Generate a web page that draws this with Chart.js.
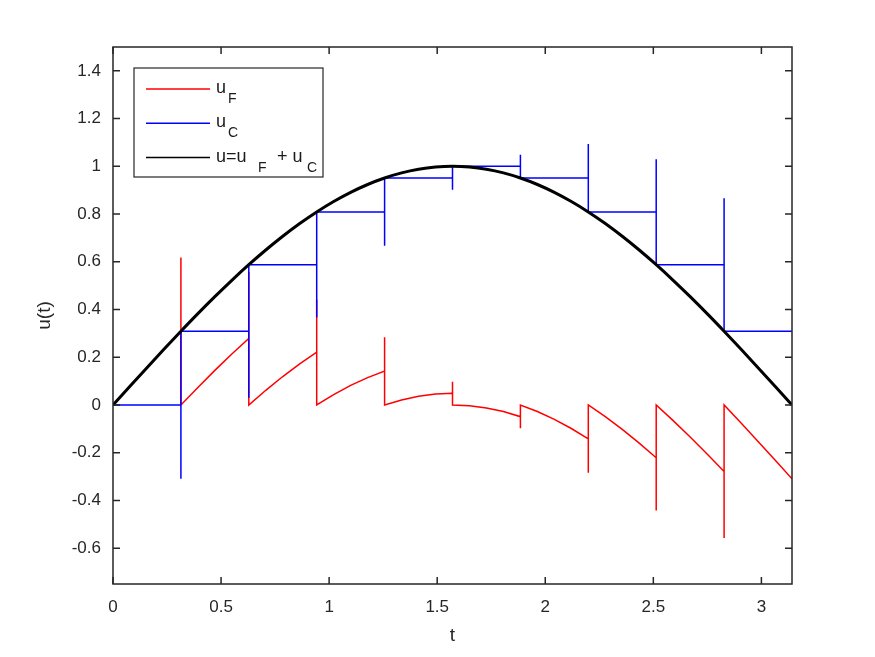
<!DOCTYPE html>
<html>
<head>
<meta charset="utf-8">
<script src="https://cdn.jsdelivr.net/npm/chart.js@4.4.1/dist/chart.umd.min.js"></script>
<style>
  html, body { margin: 0; padding: 0; background: #fff; }
  #chart { display: block; }
</style>
</head>
<body>
<canvas id="chart" width="875" height="657"></canvas>
<script>
// tick positions + labels
const xTicks = [0, 0.5, 1, 1.5, 2, 2.5, 3];
const xTickLabels = ['0', '0.5', '1', '1.5', '2', '2.5', '3'];
const yTicks = [-0.6, -0.4, -0.2, 0, 0.2, 0.4, 0.6, 0.8, 1, 1.2, 1.4];
const yTickLabels = ['-0.6', '-0.4', '-0.2', '0', '0.2', '0.4', '0.6', '0.8', '1', '1.2', '1.4'];

// u = uF + uC (black curve)
const tGrid = [0, 0.0785, 0.1571, 0.2356, 0.3142, 0.3927, 0.4712, 0.5498, 0.6283, 0.7069,
  0.7854, 0.8639, 0.9425, 1.0210, 1.0996, 1.1781, 1.2566, 1.3352, 1.4137, 1.4923,
  1.5708, 1.6493, 1.7279, 1.8064, 1.8850, 1.9635, 2.0420, 2.1206, 2.1991, 2.2777,
  2.3562, 2.4347, 2.5133, 2.5918, 2.6704, 2.7489, 2.8274, 2.9060, 2.9845, 3.0631, 3.1416];
const uTotal = [0, 0.0785, 0.1564, 0.2334, 0.3090, 0.3827, 0.4540, 0.5225, 0.5878, 0.6494,
  0.7071, 0.7604, 0.8090, 0.8526, 0.8910, 0.9239, 0.9511, 0.9724, 0.9877, 0.9969,
  1.0000, 0.9969, 0.9877, 0.9724, 0.9511, 0.9239, 0.8910, 0.8526, 0.8090, 0.7604,
  0.7071, 0.6494, 0.5878, 0.5225, 0.4540, 0.3827, 0.3090, 0.2334, 0.1564, 0.0785, 0];

// uC (blue) - held value, with a spike at every switch
const uCTime = [0,
  0.3142, 0.3142, 0.3142, 0.6283, 0.6283, 0.6283, 0.9425, 0.9425, 0.9425,
  1.2566, 1.2566, 1.2566, 1.5708, 1.5708, 1.5708, 1.8850, 1.8850, 1.8850,
  2.1991, 2.1991, 2.1991, 2.5133, 2.5133, 2.5133, 2.8274, 2.8274, 2.8274,
  3.1416];
const uCValue = [0,
  0, -0.3090, 0.3090, 0.3090, 0.0302, 0.5878, 0.5878, 0.3666, 0.8090,
  0.8090, 0.6669, 0.9511, 0.9511, 0.9022, 1.0000, 1.0000, 1.0489, 0.9511,
  0.9511, 1.0932, 0.8090, 0.8090, 1.0302, 0.5878, 0.5878, 0.8666, 0.3090,
  0.3090];

// uF (red) - remainder, reset to 0 at every switch
const uFTime = [0, 0.0785, 0.1571, 0.2356, 0.3142, 0.3142, 0.3142,
  0.3927, 0.4712, 0.5498, 0.6283, 0.6283, 0.6283,
  0.7069, 0.7854, 0.8639, 0.9425, 0.9425, 0.9425,
  1.0210, 1.0996, 1.1781, 1.2566, 1.2566, 1.2566,
  1.3352, 1.4137, 1.4923, 1.5708, 1.5708, 1.5708,
  1.6493, 1.7279, 1.8064, 1.8850, 1.8850, 1.8850,
  1.9635, 2.0420, 2.1206, 2.1991, 2.1991, 2.1991,
  2.2777, 2.3562, 2.4347, 2.5133, 2.5133, 2.5133,
  2.5918, 2.6704, 2.7489, 2.8274, 2.8274, 2.8274,
  2.9060, 2.9845, 3.0631, 3.1416];
const uFValue = [0, 0.0785, 0.1564, 0.2334, 0.3090, 0.6180, 0,
  0.0737, 0.1450, 0.2135, 0.2788, 0.5576, 0,
  0.0616, 0.1193, 0.1726, 0.2212, 0.4424, 0,
  0.0436, 0.0820, 0.1149, 0.1421, 0.2842, 0,
  0.0213, 0.0366, 0.0458, 0.0489, 0.0978, 0,
  -0.0031, -0.0123, -0.0276, -0.0489, -0.0978, 0,
  -0.0272, -0.0601, -0.0985, -0.1421, -0.2842, 0,
  -0.0486, -0.1019, -0.1596, -0.2212, -0.4424, 0,
  -0.0653, -0.1338, -0.2051, -0.2788, -0.5576, 0,
  -0.0756, -0.1526, -0.2305, -0.3090];

const toPoints = (xs, ys) => xs.map((x, i) => ({ x: x, y: ys[i] }));

const axisColor = '#262626';
const fontFamily = '"Liberation Sans", Arial, Helvetica, sans-serif';

// MATLAB style box: frame + inward ticks on all four sides
const frameBox = {
  id: 'frameBox',
  afterDatasetsDraw(chart) {
    const { ctx, chartArea: a, scales } = chart;
    ctx.save();
    ctx.strokeStyle = axisColor;
    ctx.lineWidth = 1.5;
    ctx.strokeRect(a.left, a.top, a.right - a.left, a.bottom - a.top);
    ctx.beginPath();
    xTicks.forEach(v => {
      const px = scales.x.getPixelForValue(v);
      ctx.moveTo(px, a.bottom); ctx.lineTo(px, a.bottom - 7);
      ctx.moveTo(px, a.top); ctx.lineTo(px, a.top + 7);
    });
    yTicks.forEach(v => {
      const py = scales.y.getPixelForValue(v);
      ctx.moveTo(a.left, py); ctx.lineTo(a.left + 7, py);
      ctx.moveTo(a.right, py); ctx.lineTo(a.right - 7, py);
    });
    ctx.stroke();
    ctx.restore();
  }
};

// legend with subscripts, top-left inside axes
const legendEntries = [
  { color: '#ff0000', parts: [['u', 0, false], ['F', 12, true]] },
  { color: '#0000ff', parts: [['u', 0, false], ['C', 12, true]] },
  { color: '#000000', parts: [['u=u', 0, false], ['F', 42, true], ['+ u', 61, false], ['C', 91, true]] }
];
const boxLegend = {
  id: 'boxLegend',
  afterDraw(chart) {
    const ctx = chart.ctx;
    const x0 = 134, y0 = 68, w = 189, h = 109;
    ctx.save();
    ctx.fillStyle = '#ffffff';
    ctx.fillRect(x0, y0, w, h);
    ctx.strokeStyle = axisColor;
    ctx.lineWidth = 1.2;
    ctx.strokeRect(x0, y0, w, h);
    legendEntries.forEach((e, i) => {
      const ly = y0 + 21 + i * 34.3;
      ctx.strokeStyle = e.color;
      ctx.lineWidth = 1.5;
      ctx.beginPath();
      ctx.moveTo(x0 + 12, ly);
      ctx.lineTo(x0 + 76, ly);
      ctx.stroke();
      ctx.fillStyle = '#1a1a1a';
      ctx.textBaseline = 'alphabetic';
      e.parts.forEach(([txt, dx, sub]) => {
        ctx.font = (sub ? '14px ' : '18px ') + fontFamily;
        ctx.fillText(txt, x0 + 82 + dx, ly + (sub ? 14 : 4));
      });
    });
    ctx.restore();
  }
};

const ctx = document.getElementById('chart').getContext('2d');
new Chart(ctx, {
  type: 'line',
  data: {
    datasets: [
      {
        label: 'u=u_F + u_C',
        data: toPoints(tGrid, uTotal),
        borderColor: '#000000',
        borderWidth: 3,
        pointRadius: 0,
        cubicInterpolationMode: 'monotone',
        order: 1
      },
      {
        label: 'u_C',
        data: toPoints(uCTime, uCValue),
        borderColor: '#0000ff',
        borderWidth: 1.5,
        pointRadius: 0,
        tension: 0,
        order: 2
      },
      {
        label: 'u_F',
        data: toPoints(uFTime, uFValue),
        borderColor: '#ff0000',
        borderWidth: 1.5,
        pointRadius: 0,
        tension: 0,
        order: 3
      }
    ]
  },
  options: {
    responsive: false,
    animation: false,
    layout: { padding: { top: 47, right: 83, left: 0, bottom: 0 } },
    plugins: {
      legend: { display: false },
      tooltip: { enabled: false }
    },
    scales: {
      x: {
        type: 'linear',
        min: 0,
        max: 3.14159,
        afterBuildTicks: s => { s.ticks = xTicks.map(v => ({ value: v })); },
        afterFit: s => { s.height = 73; },
        grid: { display: false, drawTicks: false },
        border: { display: false },
        ticks: {
          color: axisColor,
          font: { family: fontFamily, size: 17 },
          padding: 13,
          maxRotation: 0,
          callback: v => xTickLabels[xTicks.indexOf(v)]
        },
        title: {
          display: true,
          text: 't',
          color: axisColor,
          font: { family: fontFamily, size: 19 },
          padding: { top: 0, bottom: 10 }
        }
      },
      y: {
        type: 'linear',
        min: -0.75,
        max: 1.5,
        afterBuildTicks: s => { s.ticks = yTicks.map(v => ({ value: v })); },
        afterFit: s => { s.width = 113; },
        grid: { display: false, drawTicks: false },
        border: { display: false },
        ticks: {
          color: axisColor,
          font: { family: fontFamily, size: 17 },
          padding: 12,
          callback: v => yTickLabels[yTicks.indexOf(v)]
        },
        title: {
          display: true,
          text: 'u(t)',
          color: axisColor,
          font: { family: fontFamily, size: 19 },
          padding: { top: 33, bottom: 0 }
        }
      }
    }
  },
  plugins: [frameBox, boxLegend]
});
</script>
</body>
</html>
